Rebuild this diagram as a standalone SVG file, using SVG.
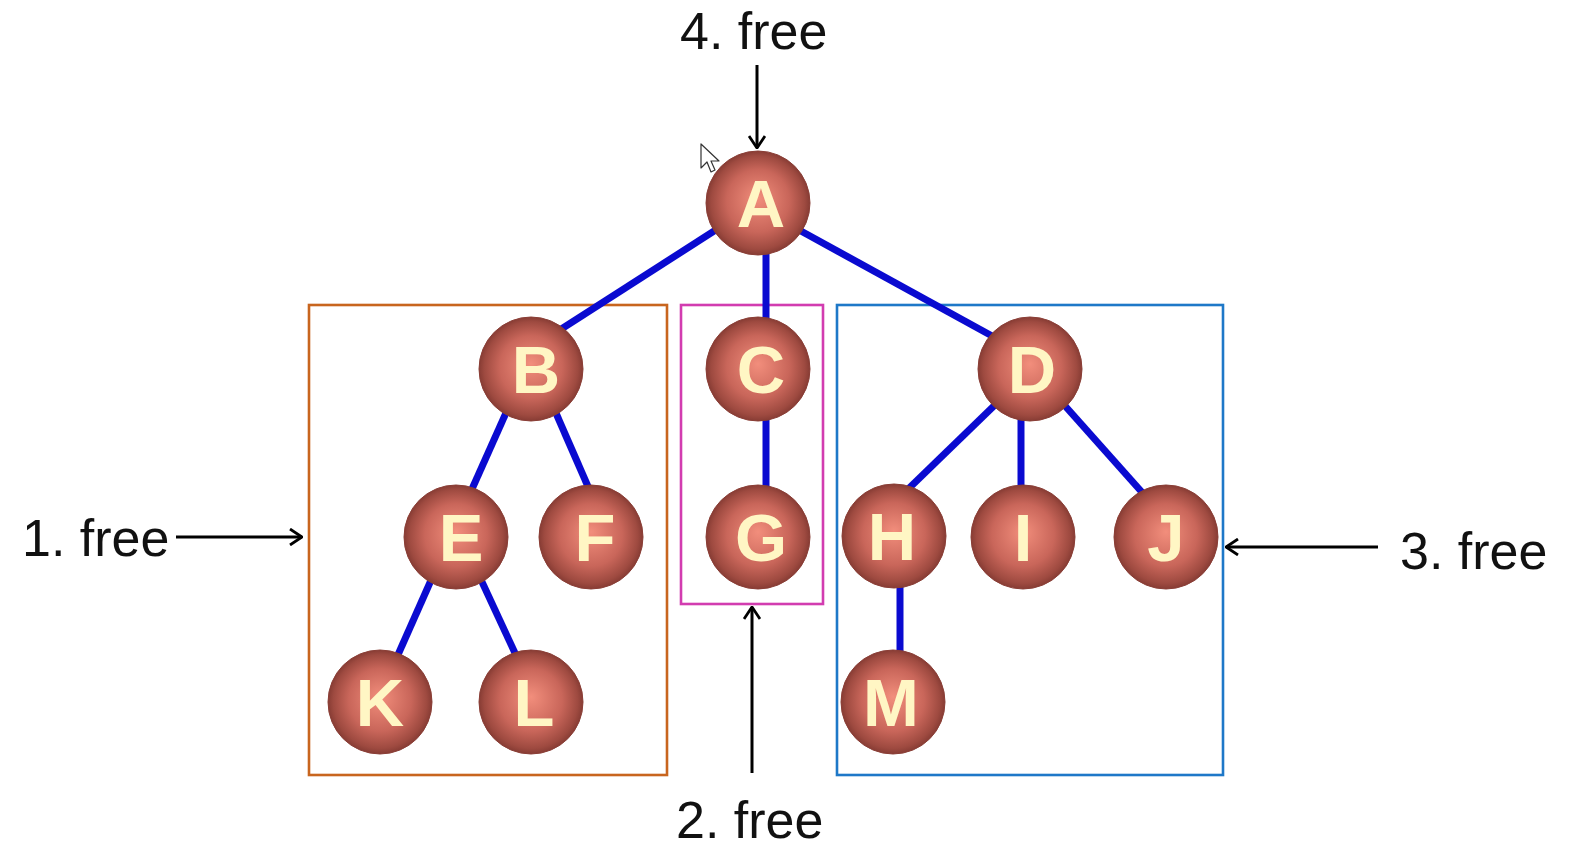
<svg xmlns="http://www.w3.org/2000/svg" width="1572" height="850" viewBox="0 0 1572 850">
<defs>
<radialGradient id="ball" cx="0.5" cy="0.5" r="0.5" fx="0.5" fy="0.45">
<stop offset="0" stop-color="#F28E7C"/>
<stop offset="0.6" stop-color="#C9665A"/>
<stop offset="0.9" stop-color="#9E4A40"/>
<stop offset="1" stop-color="#873C34"/>
</radialGradient>
<marker id="ah" viewBox="0 0 14 18" refX="13" refY="9" markerWidth="14" markerHeight="18" markerUnits="userSpaceOnUse" orient="auto">
<path d="M1,1 L13,9 L1,17" fill="none" stroke="#000" stroke-width="2.8"/>
</marker>
<style>
.edge{stroke:#0A0AD0;stroke-width:7;stroke-linecap:butt;fill:none}
.box{fill:none;stroke-width:2.6}
.ball{fill:url(#ball);stroke:#8A3E36;stroke-width:1}
.lbl{font-family:"Liberation Sans",Arial,sans-serif;font-weight:bold;font-size:67px;fill:#FFF6C4;text-anchor:middle}
.cap{font-family:"Liberation Sans",Arial,sans-serif;font-size:52px;fill:#111}
.arr{stroke:#000;stroke-width:3;fill:none;marker-end:url(#ah)}
</style>
</defs>
<rect width="1572" height="850" fill="#fff"/>
<g id="boxes">
<rect class="box" x="309" y="305" width="358" height="470" stroke="#C8651E"/>
<rect class="box" x="681" y="305" width="142" height="299" stroke="#D23CB0"/>
<rect class="box" x="837" y="305" width="386" height="470" stroke="#1E78C8"/>
</g>
<g id="connectors">
<line class="edge" x1="725" y1="224" x2="552" y2="335"/>
<line class="edge" x1="766" y1="240" x2="766" y2="335"/>
<line class="edge" x1="790" y1="225" x2="1003" y2="342"/>
<line class="edge" x1="510" y1="404" x2="468" y2="498"/>
<line class="edge" x1="552" y1="404" x2="593" y2="498"/>
<line class="edge" x1="436" y1="569" x2="393" y2="666"/>
<line class="edge" x1="476" y1="569" x2="521" y2="666"/>
<line class="edge" x1="766" y1="400" x2="766" y2="500"/>
<line class="edge" x1="999" y1="401" x2="901" y2="496"/>
<line class="edge" x1="1021" y1="405" x2="1021" y2="500"/>
<line class="edge" x1="1058" y1="398" x2="1148" y2="499"/>
<line class="edge" x1="900" y1="575" x2="900" y2="665"/>
<line class="arr" x1="176" y1="537" x2="302" y2="537"/>
<line class="arr" x1="1378" y1="547" x2="1226" y2="547"/>
<line class="arr" x1="752" y1="773" x2="752" y2="607"/>
<line class="arr" x1="757" y1="65" x2="757" y2="148"/>
</g>
<g id="A"><circle class="ball" cx="758" cy="203" r="52"/><text class="lbl" x="761" y="227">A</text></g>
<g id="B"><circle class="ball" cx="531" cy="369" r="52"/><text class="lbl" x="536" y="393">B</text></g>
<g id="C"><circle class="ball" cx="758" cy="369" r="52"/><text class="lbl" x="761" y="393">C</text></g>
<g id="D"><circle class="ball" cx="1030" cy="369" r="52"/><text class="lbl" x="1032" y="393">D</text></g>
<g id="E"><circle class="ball" cx="456" cy="537" r="52"/><text class="lbl" x="461" y="561">E</text></g>
<g id="F"><circle class="ball" cx="591" cy="537" r="52"/><text class="lbl" x="595" y="561">F</text></g>
<g id="G"><circle class="ball" cx="758" cy="537" r="52"/><text class="lbl" x="761" y="561">G</text></g>
<g id="H"><circle class="ball" cx="894" cy="536" r="52"/><text class="lbl" x="892" y="560">H</text></g>
<g id="I"><circle class="ball" cx="1023" cy="537" r="52"/><text class="lbl" x="1023" y="561">I</text></g>
<g id="J"><circle class="ball" cx="1166" cy="537" r="52"/><text class="lbl" x="1166" y="561">J</text></g>
<g id="K"><circle class="ball" cx="380" cy="702" r="52"/><text class="lbl" x="380" y="726">K</text></g>
<g id="L"><circle class="ball" cx="531" cy="702" r="52"/><text class="lbl" x="534" y="726">L</text></g>
<g id="M"><circle class="ball" cx="893" cy="702" r="52"/><text class="lbl" x="891" y="726">M</text></g>
<g id="labels">
<text class="cap" x="22" y="556">1. free</text>
<text class="cap" x="676" y="838">2. free</text>
<text class="cap" x="1400" y="569">3. free</text>
<text class="cap" x="680" y="49">4. free</text>
</g>
<g id="cursor">
<path d="M701,144 L701,168 L707,162 L711,172 L715,170 L711,161 L719,161 Z" fill="#fff" stroke="#333" stroke-width="1.2" stroke-linejoin="round"/>
</g>
</svg>
